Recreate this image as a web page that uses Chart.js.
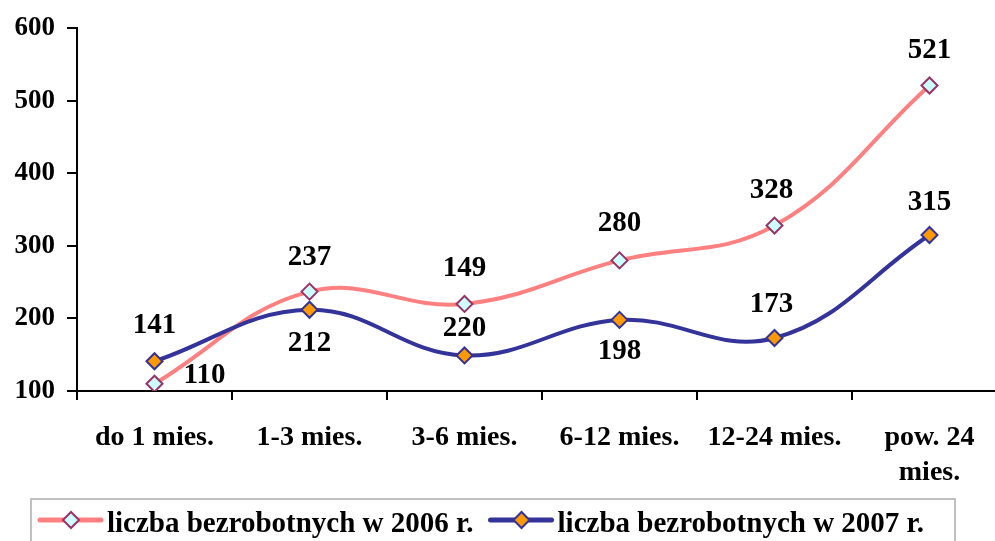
<!DOCTYPE html>
<html>
<head>
<meta charset="utf-8">
<script src="https://cdn.jsdelivr.net/npm/chart.js@4.4.1/dist/chart.umd.min.js"></script>
<style>
  html, body { margin: 0; padding: 0; background: #fff; overflow: hidden; }
  #wrap { width: 995px; height: 541px; overflow: hidden; }
</style>
</head>
<body>
<div id="wrap"><canvas id="myChart" width="1017" height="541"></canvas></div>
<script>
const categories = [
      "do 1 mies.",
      "1-3 mies.",
      "3-6 mies.",
      "6-12 mies.",
      "12-24 mies.",
      ["pow. 24", "mies."],
];

const values2006 = [110, 237, 220, 280, 328, 521];
const values2007 = [141, 212, 149, 198, 173, 315];

const yTicks = [100, 200, 300, 400, 500, 600];

const FONT = '"Liberation Serif", "Times New Roman", serif';

// label text offsets from each point (centre of text)
const offsets2006 = [[50, -8], [0, -34], [0, 25], [0, -37], [-3, -35], [0, -35]];
const offsets2007 = [[0, -36], [0, 34], [0, -87], [0, 32], [-3, -34], [0, -32]];

const pointLabels = {
      id: "pointLabels",
      afterDatasetsDraw(chart) {
            const ctx = chart.ctx;
            ctx.save();
            ctx.font = "bold 29px " + FONT;
            ctx.fillStyle = "#000";
            ctx.textAlign = "center";
            ctx.textBaseline = "middle";
            chart.data.datasets.forEach((ds, di) => {
                  const meta = chart.getDatasetMeta(di);
                  meta.data.forEach((pt, i) => {
                        const off = ds.labelOffsets[i];
                        ctx.fillText(String(ds.data[i]), pt.x + off[0], pt.y + off[1]);
                  });
            });
            ctx.restore();
      },
};

const boxLegend = {
      id: "boxLegend",
      afterDraw(chart) {
            const ctx = chart.ctx;
            ctx.save();
            ctx.strokeStyle = "#c0c0c0";
            ctx.lineWidth = 2;
            ctx.strokeRect(31, 499, 924, 60);
            ctx.font = "bold 29px " + FONT;
            ctx.textBaseline = "alphabetic";
            ctx.textAlign = "left";
            let x = 40;
            const y = 520;
            chart.data.datasets.forEach((ds) => {
                  ctx.strokeStyle = ds.borderColor;
                  ctx.lineWidth = 5;
                  ctx.lineCap = "round";
                  ctx.beginPath();
                  ctx.moveTo(x, y);
                  ctx.lineTo(x + 61, y);
                  ctx.stroke();
                  ctx.fillStyle = ds.pointBackgroundColor;
                  ctx.strokeStyle = ds.pointBorderColor;
                  ctx.lineWidth = 2;
                  ctx.beginPath();
                  ctx.moveTo(x + 31 - 8, y);
                  ctx.lineTo(x + 31, y - 8);
                  ctx.lineTo(x + 31 + 8, y);
                  ctx.lineTo(x + 31, y + 8);
                  ctx.closePath();
                  ctx.fill();
                  ctx.stroke();
                  ctx.fillStyle = "#000";
                  ctx.fillText(ds.label, x + 67, 532);
                  x = x + 67 + ctx.measureText(ds.label).width + 17;
            });
            ctx.restore();
      },
};

const data = {
      labels: categories,
      datasets: [{
            label: "liczba bezrobotnych w 2006 r.",
            data: values2006,
            borderColor: "#FF8080",
            borderWidth: 4,
            pointStyle: "rectRot",
            pointRadius: 8,
            pointBorderWidth: 2,
            pointBackgroundColor: "#CCFFFF",
            pointBorderColor: "#993366",
            tension: 0.4,
            order: 2,
            labelOffsets: offsets2006,
      }, {
            label: "liczba bezrobotnych w 2007 r.",
            data: values2007,
            borderColor: "#333399",
            borderWidth: 4,
            pointStyle: "rectRot",
            pointRadius: 8,
            pointBorderWidth: 2,
            pointBackgroundColor: "#FF9900",
            pointBorderColor: "#333399",
            tension: 0.4,
            order: 1,
            labelOffsets: offsets2007,
      }],
};

const config = {
      type: "line",
      data: data,
      plugins: [pointLabels, boxLegend],
      options: {
            responsive: false,
            animation: false,
            layout: { padding: { top: 27, left: 0, right: 0, bottom: 0 } },
            plugins: {
                  legend: { display: false },
                  tooltip: { enabled: false },
            },
            scales: {
                  x: {
                        offset: true,
                        afterFit: (s) => { s.height = 150; },
                        grid: {
                              offset: true,
                              drawOnChartArea: false,
                              drawTicks: true,
                              tickLength: 9,
                              color: "#000",
                              lineWidth: 2,
                        },
                        border: { color: "#000", width: 2 },
                        ticks: {
                              color: "#000",
                              padding: 20,
                              maxRotation: 0,
                              autoSkip: false,
                              font: { family: FONT, size: 28, weight: "bold", lineHeight: 1.25 },
                        },
                  },
                  y: {
                        min: yTicks[0],
                        max: yTicks[yTicks.length - 1],
                        afterFit: (s) => { s.width = 77; },
                        afterBuildTicks: (s) => { s.ticks = yTicks.map((v) => ({ value: v })); },
                        grid: {
                              drawOnChartArea: false,
                              drawTicks: true,
                              tickLength: 10,
                              color: "#000",
                              lineWidth: 2,
                        },
                        border: { color: "#000", width: 2 },
                        ticks: {
                              color: "#000",
                              padding: 12,
                              font: { family: FONT, size: 27, weight: "bold" },
                        },
                  },
            },
      },
};

const myChart = new Chart(document.getElementById("myChart").getContext("2d"), config);
</script>
</body>
</html>
